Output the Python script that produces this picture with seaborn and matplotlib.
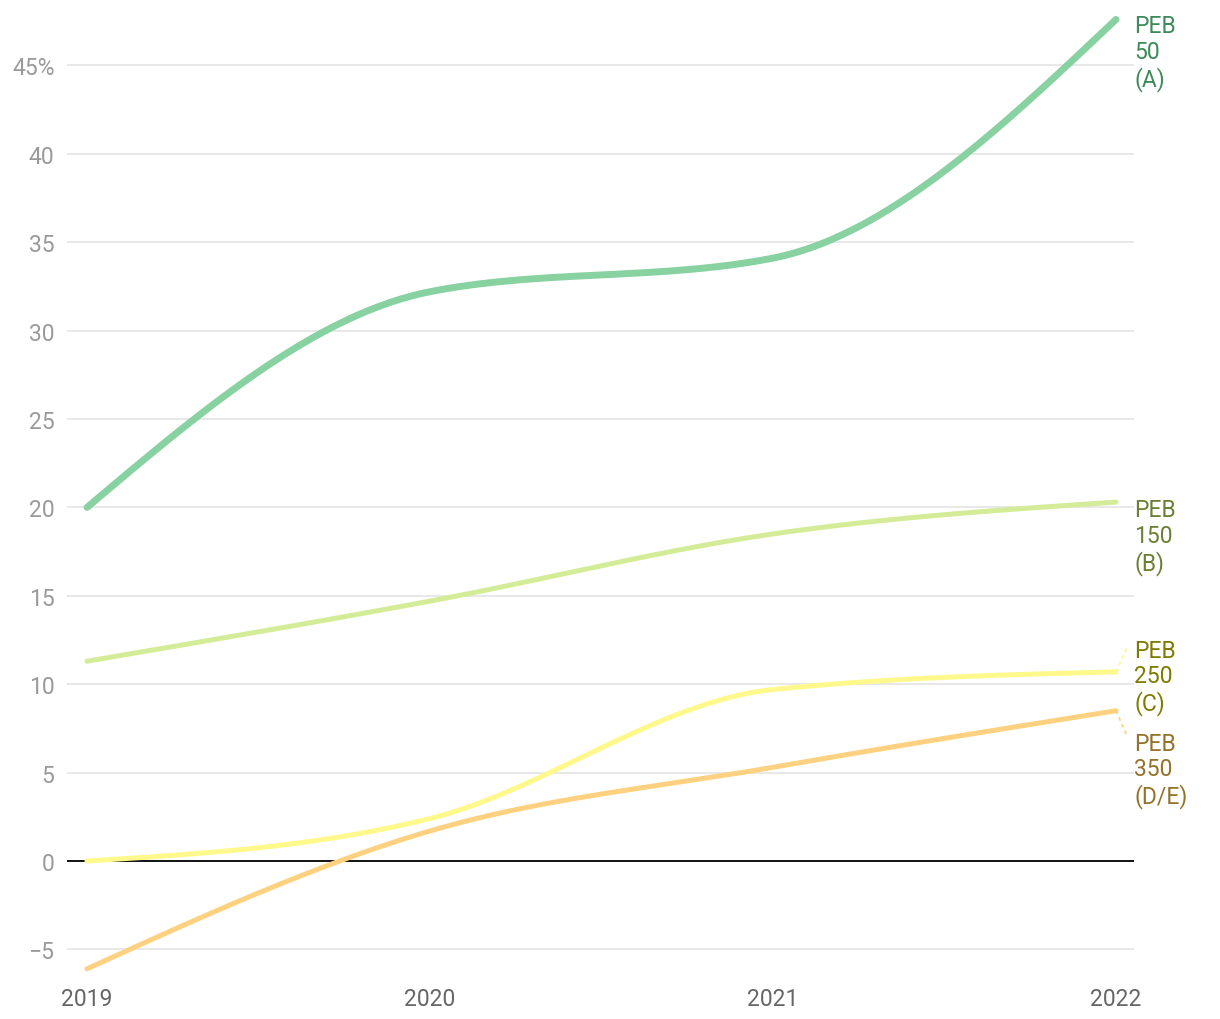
import numpy as np
import pandas as pd
import matplotlib
matplotlib.use("Agg")
import matplotlib.pyplot as plt
import seaborn as sns

years = [2019, 2020, 2021, 2022]
series_names = ["PEB 50 (A)", "PEB 150 (B)", "PEB 250 (C)", "PEB 350 (D/E)"]
label_texts = ["PEB\n50\n(A)", "PEB\n150\n(B)", "PEB\n250\n(C)", "PEB\n350\n(D/E)"]
peb50 = [20.0, 32.2, 34.1, 47.6]
peb150 = [11.3, 14.7, 18.5, 20.3]
peb250 = [0.0, 2.4, 9.7, 10.7]
peb350 = [-6.1, 1.7, 5.3, 8.5]
y_ticks = [-5, 0, 5, 10, 15, 20, 25, 30, 35, 40, 45]
y_tick_labels = ["\u22125", "0", "5", "10", "15", "20", "25", "30", "35", "40", "45%"]
x_tick_labels = ["2019", "2020", "2021", "2022"]

line_colors = ["#88d1a1", "#d4ec98", "#fef98a", "#fdd17f"]
text_colors = ["#3d8a5a", "#6b7f35", "#7f7a00", "#94722a"]
line_widths = [5.0, 3.6, 3.6, 3.6]
label_y = [45.73, 18.34, 10.42, 5.15]


def monotone_curve(x, y, n=60):
    """d3 curveMonotoneX-style rendering of a polyline."""
    x = np.asarray(x, float)
    y = np.asarray(y, float)
    h = np.diff(x)
    s = np.diff(y) / h
    m = np.zeros(len(x))
    for i in range(1, len(x) - 1):
        p = (s[i - 1] * h[i] + s[i] * h[i - 1]) / (h[i - 1] + h[i])
        m[i] = (np.sign(s[i - 1]) + np.sign(s[i])) * min(abs(s[i - 1]), abs(s[i]), 0.5 * abs(p))
    m[0] = (3 * s[0] - m[1]) / 2
    m[-1] = (3 * s[-1] - m[-2]) / 2
    xs, ys = [], []
    for i in range(len(x) - 1):
        t = np.linspace(0, 1, n, endpoint=(i == len(x) - 2))
        h00 = 2 * t**3 - 3 * t**2 + 1
        h10 = t**3 - 2 * t**2 + t
        h01 = -2 * t**3 + 3 * t**2
        h11 = t**3 - t**2
        xs.append(x[i] + t * h[i])
        ys.append(h00 * y[i] + h10 * h[i] * m[i] + h01 * y[i + 1] + h11 * h[i] * m[i + 1])
    return np.concatenate(xs), np.concatenate(ys)


sns.set_theme(style="white")
plt.rcParams["font.family"] = ["Roboto", "DejaVu Sans"]

fig = plt.figure(figsize=(12.2, 10.2), dpi=100)
ax = fig.add_axes([67 / 1220, 1 - 977 / 1020, (1134 - 67) / 1220, (977 - 12) / 1020])

for yv in y_ticks:
    ax.axhline(yv, color="#e2e2e2", lw=1.1, zorder=0)
ax.axhline(0, color="#000000", lw=1.3, zorder=1)

all_series = [peb50, peb150, peb250, peb350]
order = [3, 2, 1, 0]
for i in order:
    vals = all_series[i]
    sx, sy = monotone_curve(years, vals)
    df = pd.DataFrame({"year": sx, "value": sy})
    sns.lineplot(data=df, x="year", y="value", ax=ax, color=line_colors[i],
                 lw=line_widths[i], sort=False, estimator=None,
                 solid_capstyle="round", zorder=3 + (3 - i), clip_on=False)

x_end = years[-1]
x_lab = x_end + 18 / 343
for i in range(4):
    ax.text(x_lab, label_y[i], label_texts[i], color=text_colors[i], fontsize=16.5,
            ha="left", va="center", linespacing=1.15, clip_on=False)

# dashed leader lines for displaced labels
ax.plot([x_end, x_end + 11 / 343], [peb250[-1], peb250[-1] + 24 / 17.667],
        color=line_colors[2], lw=1.3, ls=(0, (2, 2)), clip_on=False)
ax.plot([x_end, x_end + 11 / 343], [peb350[-1], peb350[-1] - 25 / 17.667],
        color=line_colors[3], lw=1.3, ls=(0, (2, 2)), clip_on=False)

ax.set_xlim(2019 - 20 / 343, 2022 + 18 / 343)
ax.set_ylim((862 - 977) / 17.68, (862 - 12) / 17.68)
ax.set_yticks(y_ticks)
ax.set_yticklabels(y_tick_labels)
ax.set_xticks(years)
ax.set_xticklabels(x_tick_labels)
ax.tick_params(axis="y", colors="#9a9a9a", labelsize=16.5, length=0, pad=9)
ax.tick_params(axis="x", colors="#666666", labelsize=16.5, length=0, pad=8)
ax.set_xlabel("")
ax.set_ylabel("")
for sp in ax.spines.values():
    sp.set_visible(False)
ax.grid(False)

fig.savefig("out.png", dpi=100)
